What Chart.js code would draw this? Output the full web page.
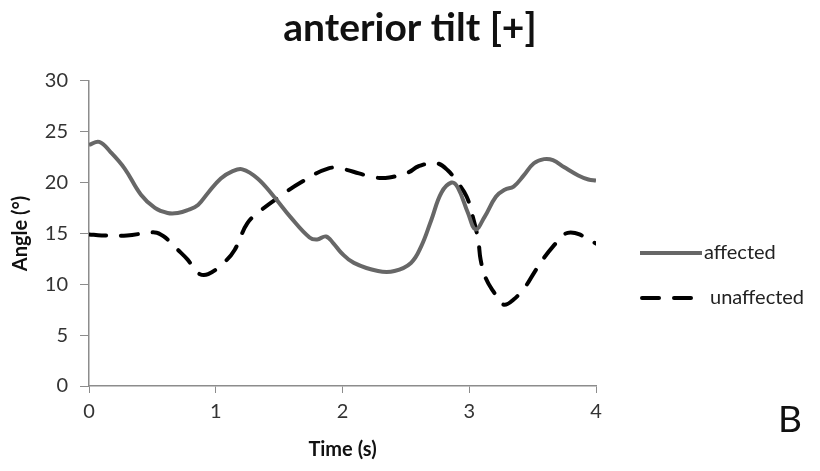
<!DOCTYPE html>
<html>
<head>
<meta charset="utf-8">
<script src="https://cdn.jsdelivr.net/npm/chart.js@4"></script>
<style>
  html, body { margin: 0; padding: 0; background: #fff; }
  #wrap { position: relative; width: 820px; height: 471px; }
  #panel { position: absolute; left: 778px; top: 399px; font: 37px Lato, sans-serif; line-height: 1; color: #111; }
</style>
</head>
<body>
<div id="wrap">
  <canvas id="canvas" width="820" height="471"></canvas>
  <div id="panel">B</div>
</div>
<script>
// values
const affectedT = [0, 0.08, 0.17, 0.28, 0.41, 0.52, 0.62, 0.70, 0.78, 0.86, 0.94, 1.04, 1.13, 1.21, 1.33, 1.46, 1.59, 1.74, 1.80, 1.87, 1.93, 1.99, 2.09, 2.28, 2.41, 2.54, 2.62, 2.70, 2.78, 2.86, 2.91, 2.99, 3.05, 3.12, 3.21, 3.28, 3.35, 3.43, 3.51, 3.59, 3.66, 3.75, 3.86, 3.94, 4.0]
const affectedV = [23.7, 24.0, 23.0, 21.4, 18.8, 17.5, 17.0, 17.0, 17.3, 17.8, 19.0, 20.4, 21.1, 21.3, 20.4, 18.6, 16.6, 14.6, 14.4, 14.7, 14.0, 13.1, 12.1, 11.3, 11.3, 12.1, 13.7, 16.3, 19.0, 20.0, 19.5, 17.0, 15.4, 16.6, 18.6, 19.3, 19.6, 20.7, 21.9, 22.3, 22.2, 21.5, 20.7, 20.3, 20.2]

const unaffectedT = [0, 0.1, 0.3, 0.52, 0.59, 0.70, 0.78, 0.86, 0.94, 1.07, 1.15, 1.25, 1.36, 1.49, 1.67, 1.89, 2.01, 2.13, 2.25, 2.37, 2.52, 2.60, 2.74, 2.83, 2.92, 2.98, 3.02, 3.07, 3.09, 3.13, 3.19, 3.27, 3.35, 3.45, 3.51, 3.59, 3.66, 3.75, 3.80, 3.87, 4.0]
const unaffectedV = [14.9, 14.8, 14.8, 15.1, 14.7, 13.4, 12.4, 11.1, 11.0, 12.2, 13.4, 16.0, 17.3, 18.5, 20.0, 21.4, 21.3, 20.9, 20.5, 20.5, 21.0, 21.6, 21.9, 21.2, 19.8, 18.6, 17.0, 14.4, 12.4, 10.6, 9.3, 8.0, 8.5, 9.9, 11.1, 12.6, 13.7, 14.9, 15.1, 14.9, 14.0]

const seriesNames = ['affected', 'unaffected']
const xTicks = [0, 1, 2, 3, 4]
const yTicks = [0, 5, 10, 15, 20, 25, 30]

const toPoints = (ts, vs) => ts.map((t, i) => ({ x: t, y: vs[i] }))

const font = 'Lato, sans-serif'
const axisGray = '#8c8c8c'

// legend drawn to the right of the plot, like the original
const sideLegend = {
  id: 'sideLegend',
  afterDraw(chart) {
    const ctx = chart.ctx
    const rows = [253, 298]
    chart.data.datasets.forEach((ds, i) => {
      const y = rows[i]
      ctx.save()
      ctx.strokeStyle = ds.borderColor
      ctx.lineWidth = ds.borderWidth
      ctx.lineCap = ds.borderCapStyle || 'butt'
      ctx.setLineDash(ds.borderDash || [])
      ctx.beginPath()
      ctx.moveTo(i === 0 ? 640 : 642, y)
      ctx.lineTo(i === 0 ? 702 : 691, y)
      ctx.stroke()
      ctx.setLineDash([])
      ctx.fillStyle = '#222'
      ctx.font = '20px ' + font
      ctx.textBaseline = 'middle'
      ctx.fillText(ds.label, i === 0 ? 704 : 710, y)
      ctx.restore()
    })
  }
}

const config = {
  type: 'line',
  data: {
    datasets: [
      {
        label: seriesNames[0],
        data: toPoints(affectedT, affectedV),
        borderColor: '#676767',
        borderWidth: 4,
        pointRadius: 0,
        tension: 0.4,
        fill: false,
      },
      {
        label: seriesNames[1],
        data: toPoints(unaffectedT, unaffectedV),
        borderColor: '#000000',
        borderWidth: 4,
        borderDash: [17, 15],
        borderCapStyle: 'round',
        pointRadius: 0,
        tension: 0.4,
        fill: false,
      },
    ],
  },
  options: {
    responsive: false,
    animation: false,
    layout: { padding: 0 },
    plugins: {
      legend: { display: false },
      tooltip: { enabled: false },
      title: {
        display: true,
        text: 'anterior tilt [+]',
        color: '#111',
        font: { family: font, size: 39, weight: 'bold' },
        padding: { top: 5, bottom: 29 },
      },
    },
    scales: {
      x: {
        type: 'linear',
        min: 0,
        max: 4,
        afterBuildTicks: s => { s.ticks = xTicks.map(v => ({ value: v })) },
        grid: { display: true, drawOnChartArea: false, color: axisGray, tickLength: 7 },
        border: { color: axisGray, width: 1.5 },
        ticks: { color: '#333', font: { family: font, size: 20 }, padding: 7 },
        title: { display: true, text: 'Time (s)', color: '#111', font: { family: font, size: 20, weight: 'bold' }, padding: { top: 6, bottom: 9 } },
        afterFit: s => { s.height = 85 },
      },
      y: {
        min: 0,
        max: 30,
        afterBuildTicks: s => { s.ticks = yTicks.map(v => ({ value: v })) },
        grid: { display: true, drawOnChartArea: false, color: axisGray, tickLength: 9 },
        border: { color: axisGray, width: 1.5 },
        ticks: { color: '#333', font: { family: font, size: 20 }, padding: 12 },
        title: { display: true, text: 'Angle (°)', color: '#111', font: { family: font, size: 20, weight: 'bold' }, padding: { top: 9, bottom: 0 } },
        afterFit: s => { s.width = 89 },
      },
      spacer: {
        position: 'right',
        display: true,
        grid: { display: false },
        border: { display: false },
        ticks: { display: false },
        afterFit: s => { s.width = 224 },
      },
    },
  },
  plugins: [sideLegend],
}

const canvas = document.getElementById('canvas')
const chart = new Chart(canvas, config)
</script>
</body>
</html>
